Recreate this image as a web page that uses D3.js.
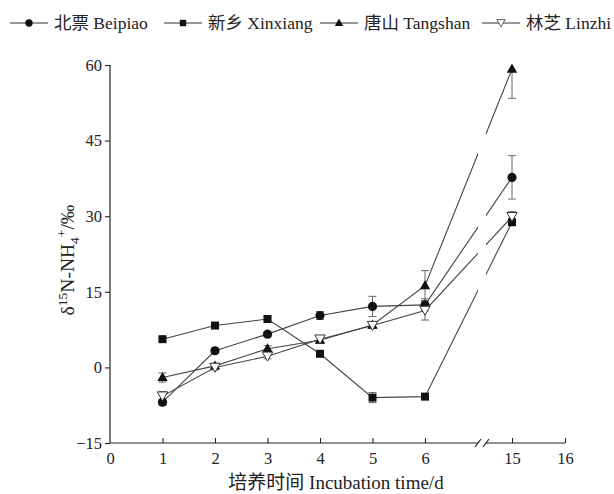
<!DOCTYPE html>
<html>
<head>
<meta charset="utf-8">
<script src="https://cdn.jsdelivr.net/npm/d3@7"></script>
<style>
  body { margin: 0; background: #fff; }
  svg text { font-family: "Liberation Serif", "Times New Roman", "Noto Sans CJK SC", serif; fill: #222; }
</style>
</head>
<body>
<div id="chart"></div>
<script>
// incubation days (x) and tick labels
var days = [1, 2, 3, 4, 5, 6, 15];
var xTicks = [0, 1, 2, 3, 4, 5, 6, 15, 16];
var yTicks = [-15, 0, 15, 30, 45, 60];

// series values, with error bars
var seriesNames = ["北票 Beipiao", "新乡 Xinxiang", "唐山 Tangshan", "林芝 Linzhi"];
var beipiao = [-6.9, 3.3, 6.6, 10.3, 12.1, 12.4, 37.7];
var beipiaoErr = [0.6, 0.5, 0.5, 0.8, 2.0, 1.2, 4.3];
var xinxiang = [5.6, 8.3, 9.6, 2.7, -6.0, -5.8, 28.8];
var xinxiangErr = [0.4, 0.4, 0.4, 0.5, 1.0, 0.5, 0.6];
var tangshan = [-2.0, 0.3, 3.7, 5.4, 8.4, 16.2, 59.2];
var tangshanErr = [0.9, 0.5, 0.6, 0.6, 0.6, 3.0, 5.8];
var linzhi = [-5.7, 0.0, 2.2, 5.6, 8.3, 11.3, 29.9];
var linzhiErr = [0.9, 0.5, 0.5, 0.6, 0.6, 1.9, 1.0];

var width = 614, height = 494;
var plotLeft = 110, plotRight = 565, plotTop = 65, plotBottom = 443;
var gapFrom = 478, gapTo = 486;   // axis break

var svg = d3.select("#chart").append("svg")
    .attr("width", width)
    .attr("height", height);

// broken x axis: 0-6 then 15-16
var x = d3.scaleLinear().domain([0, 6, 15, 16]).range([plotLeft, 425, 512, plotRight]);
var y = d3.scaleLinear().domain([-15, 60]).range([plotBottom, plotTop]);

var defs = svg.append("defs");
var gapClip = defs.append("clipPath").attr("id", "gapClip");
gapClip.append("rect").attr("x", 0).attr("y", 0).attr("width", gapFrom).attr("height", height);
gapClip.append("rect").attr("x", gapTo).attr("y", 0).attr("width", width - gapTo).attr("height", height);
defs.append("clipPath").attr("id", "plotClip")
    .append("rect").attr("x", plotLeft).attr("y", plotTop)
    .attr("width", plotRight - plotLeft + 20).attr("height", plotBottom - plotTop);

var series = [
    { name: seriesNames[0], values: beipiao, err: beipiaoErr, shape: "circle" },
    { name: seriesNames[1], values: xinxiang, err: xinxiangErr, shape: "square" },
    { name: seriesNames[2], values: tangshan, err: tangshanErr, shape: "triangle" },
    { name: seriesNames[3], values: linzhi, err: linzhiErr, shape: "triangleDown" }
];

function marker(sel, shape) {
    if (shape == "circle") {
        sel.append("circle").attr("r", 4.6).attr("fill", "#111");
    } else if (shape == "square") {
        sel.append("rect").attr("x", -4).attr("y", -4).attr("width", 8).attr("height", 8).attr("fill", "#111");
    } else if (shape == "triangle") {
        sel.append("path").attr("d", "M0,-5.5L5.2,3.6L-5.2,3.6Z").attr("fill", "#111");
    } else {
        sel.append("path").attr("d", "M0,4.8L5.2,-4.2L-5.2,-4.2Z")
            .attr("fill", "#fff").attr("stroke", "#333").attr("stroke-width", 1);
    }
}

// 
// axes
// 
var yAxis = d3.axisLeft(y).tickValues(yTicks).tickSize(5).tickPadding(3);
var gy = svg.append("g").attr("transform", "translate(" + plotLeft + ",0)").call(yAxis);
gy.select(".domain").attr("d", "M0," + plotTop + "V" + plotBottom);

var xAxis = d3.axisBottom(x).tickValues(xTicks).tickSize(-5).tickPadding(9);
var gx = svg.append("g").attr("transform", "translate(0," + plotBottom + ")").call(xAxis);
gx.select(".domain").remove();
gx.append("path")
    .attr("d", "M" + plotLeft + ",0H" + gapFrom + "M" + gapTo + ",0H" + plotRight)
    .attr("stroke", "#222").attr("stroke-width", 1.2).attr("fill", "none");
[gapFrom, gapTo].forEach(function(bx) {
    gx.append("line")
        .attr("x1", bx - 3).attr("y1", 4).attr("x2", bx + 3).attr("y2", -4)
        .attr("stroke", "#222").attr("stroke-width", 1.2);
});

svg.selectAll(".tick line").attr("stroke", "#222").attr("stroke-width", 1.1);
gx.selectAll(".tick").filter(function(d) { return d == 0; }).select("line").remove();
svg.selectAll(".tick text").style("font-size", "16.5px").attr("fill", "#222");
gy.select(".domain").attr("stroke", "#222").attr("stroke-width", 1.2);

// axis titles
svg.append("text")
    .attr("x", 336).attr("y", 489)
    .attr("text-anchor", "middle")
    .style("font-size", "19px")
    .text("培养时间 Incubation time/d");

var ylab = svg.append("text")
    .attr("transform", "translate(74,260) rotate(-90)")
    .attr("text-anchor", "middle")
    .style("font-size", "19.5px");
ylab.append("tspan").text("δ");
ylab.append("tspan").attr("dy", -7).style("font-size", "13.5px").text("15");
ylab.append("tspan").attr("dy", 7).text("N-NH");
ylab.append("tspan").attr("dy", 5).style("font-size", "13.5px").text("4");
ylab.append("tspan").attr("dy", -13).style("font-size", "13.5px").text("+");
ylab.append("tspan").attr("dy", 8).text("/‰");

// 
// lines, error bars, markers
// 
var line = d3.line()
    .x(function(d, i) { return x(days[i]); })
    .y(function(d) { return y(d); });

var lines = svg.append("g").attr("clip-path", "url(#gapClip)");
series.forEach(function(s) {
    lines.append("path")
        .attr("d", line(s.values))
        .attr("fill", "none")
        .attr("stroke", "#444")
        .attr("stroke-width", 1.1);
});

var bars = svg.append("g").attr("clip-path", "url(#plotClip)");
series.forEach(function(s) {
    s.values.forEach(function(v, i) {
        var cx = x(days[i]), y0 = y(v - s.err[i]), y1 = y(v + s.err[i]);
        bars.append("path")
            .attr("d", "M" + cx + "," + y0 + "V" + y1 +
                "M" + (cx - 4) + "," + y0 + "H" + (cx + 4) +
                "M" + (cx - 4) + "," + y1 + "H" + (cx + 4))
            .attr("stroke", "#666").attr("stroke-width", 1).attr("fill", "none");
    });
});

series.forEach(function(s) {
    s.values.forEach(function(v, i) {
        var g = svg.append("g").attr("transform", "translate(" + x(days[i]) + "," + y(v) + ")");
        marker(g, s.shape);
    });
});

// 
// legend
// 
var legendX = [10, 164, 320, 482];
series.forEach(function(s, i) {
    var lg = svg.append("g").attr("transform", "translate(" + legendX[i] + ",23)");
    lg.append("line").attr("x1", 0).attr("x2", 38).attr("y1", 0).attr("y2", 0)
        .attr("stroke", "#333").attr("stroke-width", 1.1);
    var m = lg.append("g").attr("transform", "translate(19,0)");
    marker(m, s.shape);
    m.attr("transform", "translate(19,0) scale(0.8)");
    lg.append("text").attr("x", 44).attr("y", 6)
        .style("font-size", "17.5px")
        .text(s.name);
});
</script>
</body>
</html>
